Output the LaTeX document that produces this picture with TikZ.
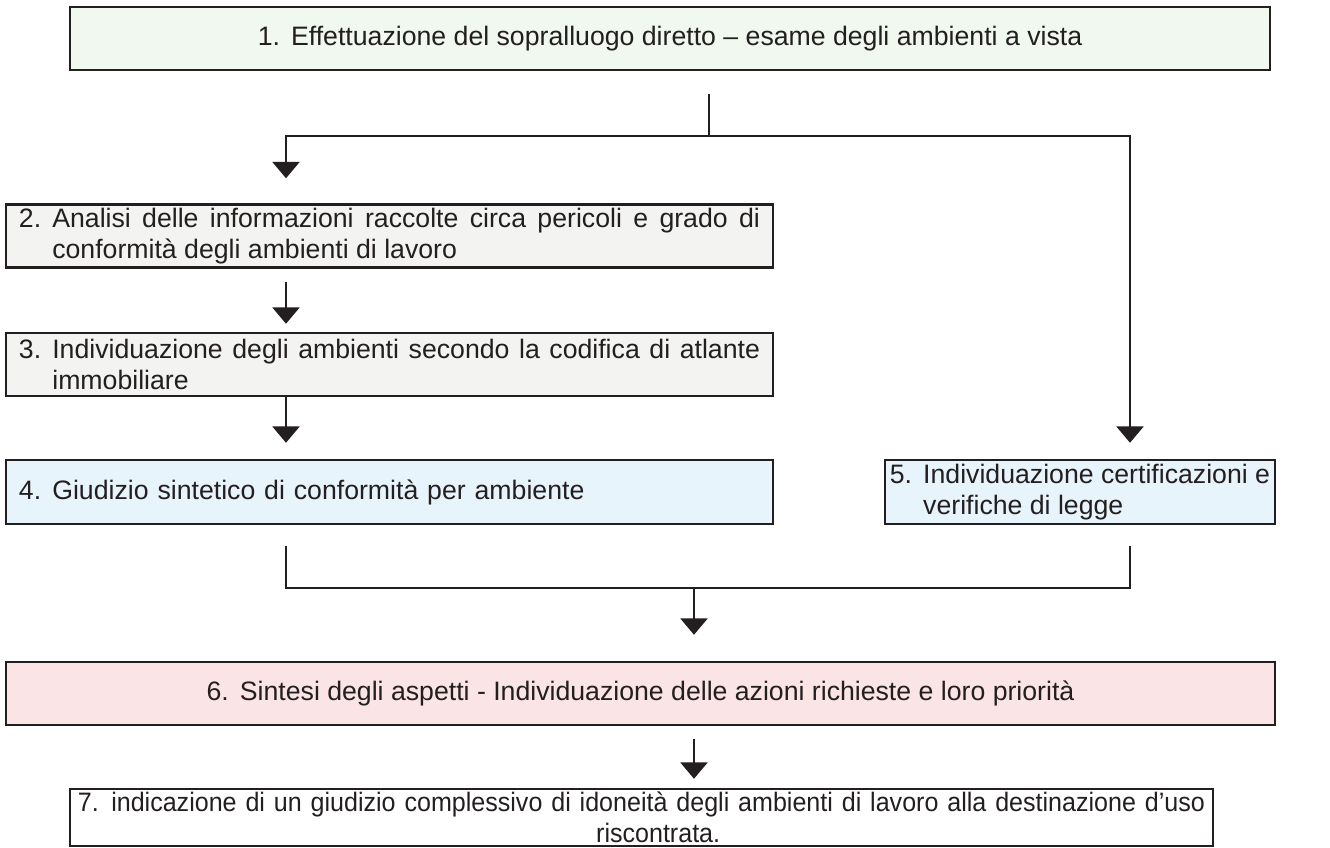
\documentclass[tikz,border=0pt]{standalone}
\usepackage{fontspec}
\setmainfont{Liberation Sans}
\newfontfamily\narrowsans{Liberation Sans}[FakeStretch=0.94]
\usetikzlibrary{arrows.meta,calc}
\definecolor{surveyfill}{HTML}{F1F8F0}
\definecolor{checkfill}{HTML}{F3F4F2}
\definecolor{verdictfill}{HTML}{E8F4FB}
\definecolor{summaryfill}{HTML}{FBE4E5}
\definecolor{darkline}{HTML}{231F20}
\newcommand{\stepno}[1]{\makebox[1.25em][l]{#1}}
\newcommand{\hangline}{\hspace*{1.25em}}
\tikzset{
  card/.style={rectangle, draw=darkline, line width=1.1pt, text=darkline, font=\fontsize{12}{13.8}\selectfont, inner ysep=0pt},
  survey/.style={card, fill=surveyfill, minimum width=540pt, minimum height=28.35pt, align=center},
  check/.style={card, fill=checkfill, text width=333.45pt, inner xsep=5.85pt, minimum height=28.35pt, align=justify},
  verdict/.style={card, fill=verdictfill, minimum height=28.8pt, align=left},
  summary/.style={card, fill=summaryfill, minimum width=571.05pt, minimum height=28.35pt, align=center},
  final/.style={card, fill=white, text width=510.75pt, inner xsep=1.8pt, minimum height=25.65pt, align=center, font=\narrowsans\fontsize{12}{13.8}\selectfont},
  link/.style={line width=1pt, draw=darkline},
  flow/.style={link, -{Triangle[length=7.4pt, width=12.2pt]}}
}

\begin{document}
\begin{tikzpicture}[x=0.45pt, y=-0.45pt]
\useasboundingbox (0,0) rectangle (1330,848);

% Steps of the survey.
\node[survey] (survey) at (670,38.5) {\stepno{1.}Effettuazione del sopralluogo diretto -- esame degli ambienti a vista};
\node[check] (analysis) at (389.5,236) {\stepno{2.}Analisi delle informazioni raccolte circa pericoli e grado di\linebreak\hangline conformità degli ambienti di lavoro};
\node[check] (coding) at (389.5,364.5) {\stepno{3.}Individuazione degli ambienti secondo la codifica di atlante\linebreak\hangline immobiliare};
\node[verdict, text width=333.45pt, inner xsep=5.85pt] (verdict) at (389.5,492) {\stepno{4.}Giudizio sintetico di conformità per ambiente};
\node[verdict, minimum width=175.5pt, inner xsep=1.8pt] (certs) at (1080,492) {\stepno{5.}Individuazione certificazioni e\\\hangline verifiche di legge};
\node[summary] (summary) at (640.5,693.5) {\stepno{6.}Sintesi degli aspetti - Individuazione delle azioni richieste e loro priorità};
\node[final] (final) at (641.5,817.5) {\stepno{7.}indicazione di un giudizio complessivo di idoneità degli ambienti di lavoro alla destinazione d’uso\\\hangline riscontrata.};

% Lanes of the connectors.
\coordinate (lane) at (286,0);
\coordinate (rlane) at (1130,0);
\coordinate (split) at (709,136);
\coordinate (merge) at (694,588);

\draw[link] (survey.south -| split) ++(0,23) -- (split);
\draw[flow] (split) -| ($(analysis.north -| lane)+(0,-25)$);
\draw[flow] (split) -| ($(certs.north -| rlane)+(0,-16)$);
\draw[flow] ($(analysis.south -| lane)+(0,13)$) -- ($(coding.north -| lane)+(0,-8)$);
\draw[flow] (coding.south -| lane) -- ($(verdict.north -| lane)+(0,-16)$);

\draw[link] ($(verdict.south -| lane)+(0,21)$) |- (merge) -| ($(certs.south -| rlane)+(0,21)$);
\draw[flow] (merge) -- ($(summary.north -| merge)+(0,-26)$);
\draw[flow] ($(summary.south -| merge)+(0,13)$) -- ($(final.north -| merge)+(0,-9)$);

\end{tikzpicture}
\end{document}
